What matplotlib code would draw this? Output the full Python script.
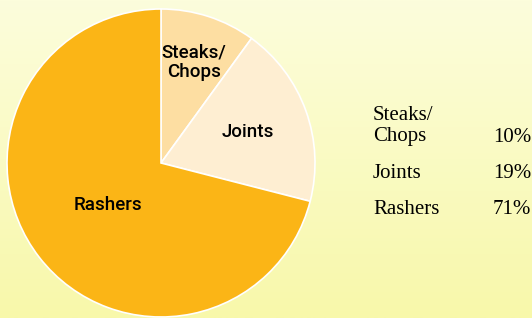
import numpy as np
import matplotlib
matplotlib.use('Agg')
import matplotlib.pyplot as plt

cuts = ['Steaks/\nChops', 'Joints', 'Rashers']
shares = [10, 19, 71]
pct_labels = ['10%', '19%', '71%']
colors = ['#fddea2', '#feeed2', '#fbb516']
label_radius = [0.69, 0.60, 0.44]

W, H = 532, 318
fig = plt.figure(figsize=(W / 100, H / 100), dpi=100)

# background gradient, pale at the top, more yellow at the bottom
bg = fig.add_axes([0, 0, 1, 1])
grad = np.linspace(0, 1, 256).reshape(-1, 1)
top = np.array([0xfc, 0xfd, 0xdc]) / 255
bottom = np.array([0xf8, 0xf8, 0xaa]) / 255
img = top + grad[..., None] * (bottom - top)
bg.imshow(img, aspect='auto', extent=[0, 1, 0, 1])
bg.set_axis_off()

# pie: centre (161,163) px, radius 154 px
cx, cy, r = 161, 163, 154
ax = fig.add_axes([(cx - r) / W, (H - cy - r) / H, 2 * r / W, 2 * r / H])
wedges, _ = ax.pie(shares, colors=colors, startangle=90, counterclock=False,
                   wedgeprops=dict(edgecolor='white', linewidth=1.2))
ax.set_xlim(-1, 1)
ax.set_ylim(-1, 1)
ax.set_aspect('equal')
ax.set_axis_off()
for w in wedges:
    w.set_clip_on(False)

for w, name, rr in zip(wedges, cuts, label_radius):
    mid = np.deg2rad((w.theta1 + w.theta2) / 2)
    ax.text(rr * np.cos(mid), rr * np.sin(mid), name, ha='center', va='center',
            fontsize=13.5, family='Roboto', weight='medium', color='black',
            linespacing=1.1)

# key on the right
rows_y = [126, 173, 210]
for name, pct, y in zip(cuts, pct_labels, rows_y):
    fig.text(373 / W, 1 - y / H, name, ha='left', va='center', fontsize=15,
             family='Liberation Serif', color='black', linespacing=1.1)
    yy = y + 12 if '\n' in name else y
    fig.text(531 / W, 1 - yy / H, pct, ha='right', va='center', fontsize=15,
             family='Liberation Serif', color='black')

fig.savefig('out.png', dpi=100)
